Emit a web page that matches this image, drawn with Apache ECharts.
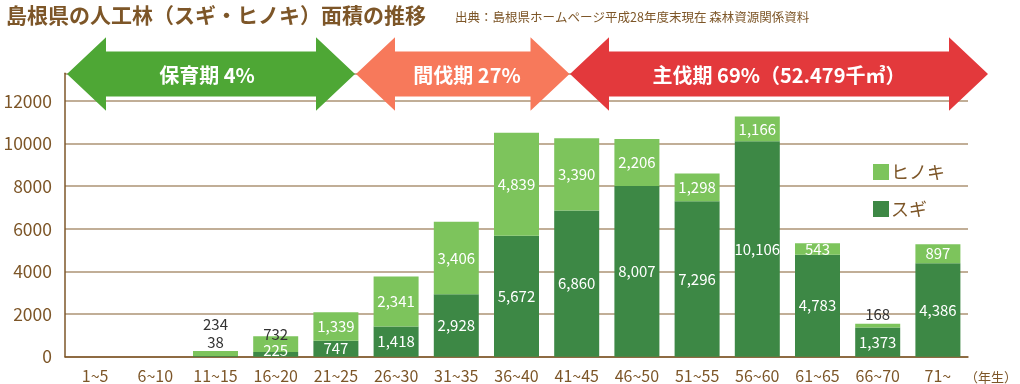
<!DOCTYPE html>
<html>
<head>
<meta charset="utf-8">
<script src="https://cdn.jsdelivr.net/npm/echarts@6/dist/echarts.min.js"></script>
<style>
html,body{margin:0;padding:0;background:#fff;}
#chart{width:1020px;height:384px;}
</style>
</head>
<body>
<div id="chart"></div>
<script>
// ---- data ----
const categories = ['1~5','6~10','11~15','16~20','21~25','26~30','31~35','36~40','41~45','46~50','51~55','56~60','61~65','66~70','71~'];
const sugi   = [0,0,38,225,747,1418,2928,5672,6860,8007,7296,10106,4783,1373,4386];
const hinoki = [0,0,234,732,1339,2341,3406,4839,3390,2206,1298,1166,543,168,897];
const yTicks = [0,2000,4000,6000,8000,10000,12000];
const titleText = '島根県の人工林（スギ・ヒノキ）面積の推移';
const sourceText = '出典：島根県ホームページ平成28年度末現在 森林資源関係資料';
const phaseLabels = ['保育期 4%','間伐期 27%','主伐期 69%（52.479千㎥）'];

// ---- styles ----
const FONT = '"Noto Sans CJK JP","Noto Sans",sans-serif';
const BROWN = '#7d5628';
const DARK = '#3d8845';
const LIGHT = '#7dc45c';
const GRID = '#ad9374';

// per-item label adjustments for small segments (style only)
const sugiLabelStyle = {
  2: {position:'top', distance:6, color:'#333'},
  3: {offset:[0,-4]}
};
const hinokiLabelStyle = {
  2: {position:'top', distance:19, color:'#333'},
  3: {position:'top', distance:-5, color:'#333'},
  13: {position:'top', distance:2, color:'#333'}
};

function items(arr, styles){
  return arr.map((v,i)=> styles[i] ? {value:v, label:styles[i]} : v);
}
const fmt = p => p.value ? Number(p.value).toLocaleString('en-US') : '';

const chart = echarts.init(document.getElementById('chart'), null, {renderer:'canvas'});

function arrow(x0, x1, color){
  const h = 39, cy = 74, ht = 36.7, bt = 22.5;
  return {
    type:'polygon', z:100, silent:true,
    shape:{points:[[x0,cy],[x0+h,cy-ht],[x0+h,cy-bt],[x1-h,cy-bt],[x1-h,cy-ht],[x1,cy],[x1-h,cy+ht],[x1-h,cy+bt],[x0+h,cy+bt],[x0+h,cy+ht]]},
    style:{fill:color}
  };
}
function arrowText(x, text){
  return {type:'text', z:101, silent:true, x:x, y:75,
    style:{text:text, fill:'#fff', font:'bold 20px ' + FONT, textAlign:'center', textVerticalAlign:'middle'}};
}

chart.setOption({
  animation:false,
  textStyle:{fontFamily:FONT},
  title:[
    {text:titleText, left:1, top:0, textStyle:{color:BROWN, fontSize:21, fontWeight:'bold', fontFamily:FONT}},
    {text:sourceText, left:450, top:6, textStyle:{color:BROWN, fontSize:12.5, fontWeight:'normal', fontFamily:FONT}}
  ],
  legend:{
    data:['ヒノキ','スギ'], orient:'vertical', left:868, top:158,
    itemWidth:16, itemHeight:16, itemGap:19, icon:'rect',
    textStyle:{color:BROWN, fontSize:18, fontFamily:FONT, padding:[0,0,0,-3]}
  },
  grid:{left:65, right:34, top:73.3, bottom:27.3, containLabel:false},
  xAxis:{
    type:'category', data:categories,
    axisTick:{show:false},
    axisLine:{lineStyle:{color:BROWN, width:1.5}},
    axisLabel:{color:BROWN, fontSize:16, margin:11, fontFamily:FONT, interval:0},
    name:'（年生）', nameLocation:'end', nameGap:-3,
    nameTextStyle:{color:BROWN, fontSize:13, fontFamily:FONT, verticalAlign:'top', padding:[14,0,0,0]}
  },
  yAxis:{
    type:'value', min:0, max:13300, interval:2000,
    axisLine:{show:true, lineStyle:{color:BROWN, width:1.5}},
    axisTick:{show:false},
    axisLabel:{color:BROWN, fontSize:17.5, margin:13, fontFamily:FONT,
      formatter: v => yTicks.indexOf(v) >= 0 ? String(v) : ''},
    splitLine:{lineStyle:{color:GRID, width:1.5}}
  },
  series:[
    {name:'スギ', type:'bar', stack:'a', barWidth:45, data:items(sugi, sugiLabelStyle),
     itemStyle:{color:DARK},
     label:{show:true, position:'inside', color:'#fff', fontSize:15, fontFamily:FONT, formatter:fmt}},
    {name:'ヒノキ', type:'bar', stack:'a', barWidth:45, data:items(hinoki, hinokiLabelStyle),
     itemStyle:{color:LIGHT},
     label:{show:true, position:'inside', color:'#fff', fontSize:15, fontFamily:FONT, formatter:fmt}}
  ],
  graphic:[
    arrow(67, 355, '#4ea735'),
    arrow(356, 569.5, '#f7795b'),
    arrow(570, 988, '#e3393c'),
    arrowText(207, phaseLabels[0]),
    arrowText(467, phaseLabels[1]),
    arrowText(779, phaseLabels[2])
  ]
});
</script>
</body>
</html>
